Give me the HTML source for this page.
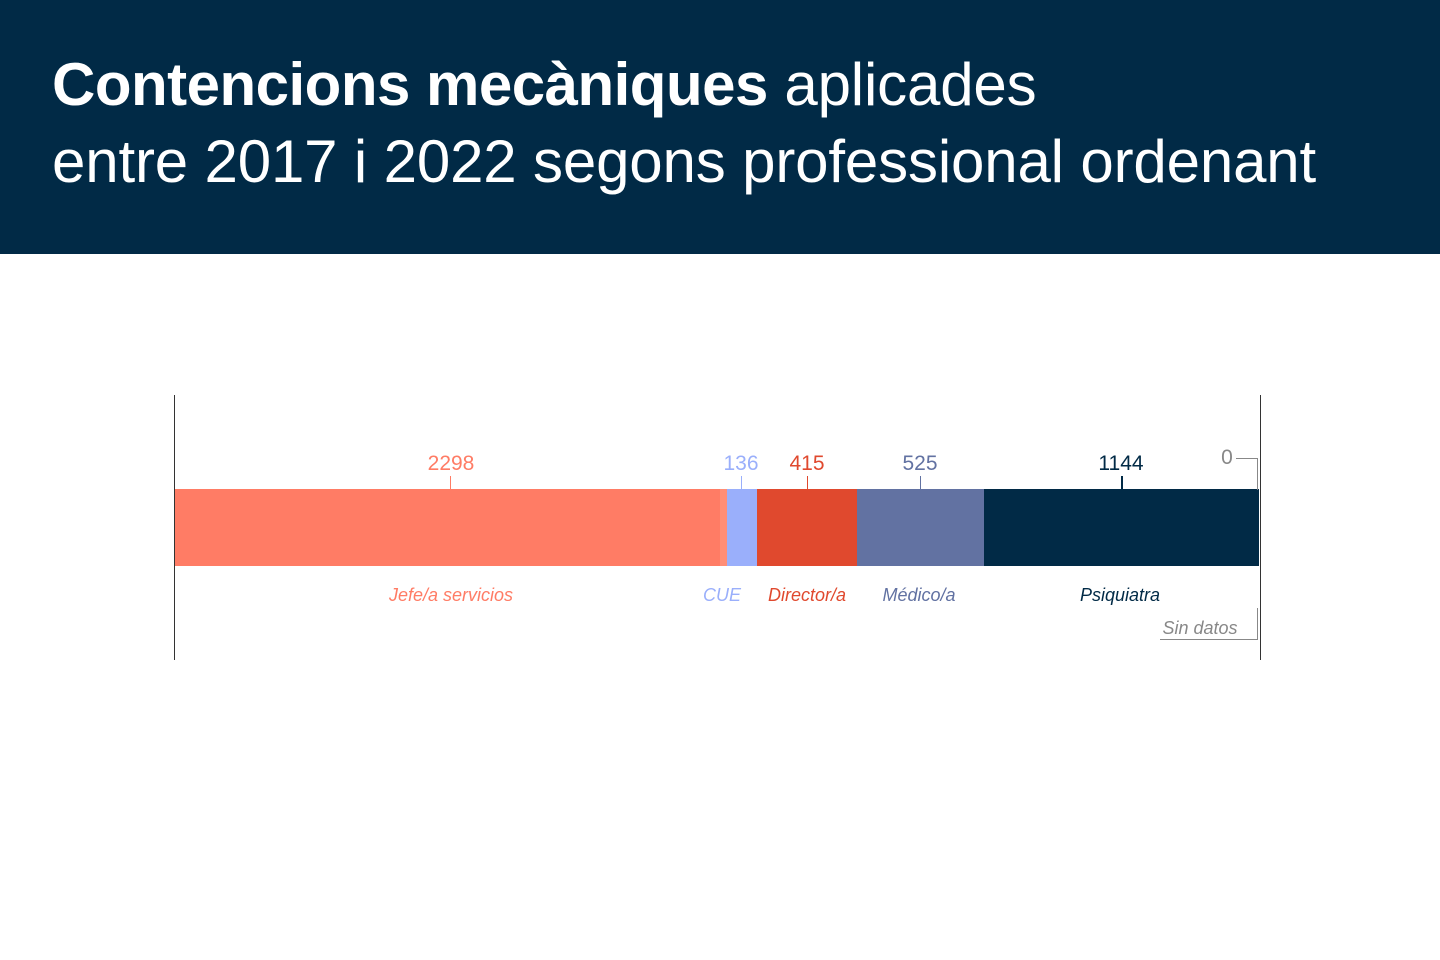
<!DOCTYPE html>
<html><head><meta charset="utf-8"><style>
body{margin:0;width:1440px;height:960px;background:#fff;font-family:"Liberation Sans",sans-serif;overflow:hidden;position:relative}
.hd{position:absolute;left:0;top:0;width:1440px;height:254px;background:#012a46;color:#fff}
.t{position:absolute;left:52px;font-size:60px;white-space:nowrap;letter-spacing:-0.15px}
.a{position:absolute}
.n{position:absolute;font-size:21px;transform:translateX(-50%);top:452px}
.l{position:absolute;font-size:18px;font-style:italic;transform:translateX(-50%);top:585px}
</style></head><body>
<div class="hd">
<div class="t" style="top:50px"><b style="letter-spacing:-0.5px">Contencions mecàniques</b> aplicades</div>
<div class="t" style="top:127px">entre 2017 i 2022 segons professional ordenant</div>
</div>
<div class="a" style="left:174px;top:395px;width:1px;height:265px;background:#333"></div>
<div class="a" style="left:1260px;top:395px;width:1px;height:265px;background:#333"></div>
<div class="a" style="left:175px;top:489px;width:545px;height:77px;background:#ff7c65"></div>
<div class="a" style="left:720px;top:489px;width:7px;height:77px;background:#ff8e76"></div>
<div class="a" style="left:727px;top:489px;width:30px;height:77px;background:#9aaffb"></div>
<div class="a" style="left:757px;top:489px;width:100px;height:77px;background:#e0492e"></div>
<div class="a" style="left:857px;top:489px;width:127px;height:77px;background:#6272a2"></div>
<div class="a" style="left:984px;top:489px;width:275px;height:77px;background:#012a46"></div>
<div class="a" style="left:450px;top:476px;width:1px;height:13px;background:#ff7c65"></div>
<div class="a" style="left:741px;top:476px;width:1px;height:13px;background:#9aaffb"></div>
<div class="a" style="left:807px;top:476px;width:1px;height:13px;background:#e0492e"></div>
<div class="a" style="left:920px;top:476px;width:1px;height:13px;background:#6272a2"></div>
<div class="a" style="left:1121px;top:476px;width:2px;height:13px;background:#012a46"></div>
<div class="a" style="left:1236px;top:458px;width:22px;height:1px;background:#888"></div>
<div class="a" style="left:1257px;top:458px;width:1px;height:32px;background:#888"></div>
<div class="a" style="left:1160px;top:639px;width:98px;height:1px;background:#888"></div>
<div class="a" style="left:1257px;top:608px;width:1px;height:32px;background:#888"></div>
<div class="n" style="left:451px;color:#ff7c65">2298</div>
<div class="n" style="left:741px;color:#9aaffb">136</div>
<div class="n" style="left:807px;color:#e0492e">415</div>
<div class="n" style="left:920px;color:#6272a2">525</div>
<div class="n" style="left:1121px;color:#012a46">1144</div>
<div class="n" style="left:1227px;top:446px;color:#888">0</div>
<div class="l" style="left:451px;color:#ff7c65">Jefe/a servicios</div>
<div class="l" style="left:722px;color:#9aaffb">CUE</div>
<div class="l" style="left:807px;color:#e0492e">Director/a</div>
<div class="l" style="left:919px;color:#6272a2">Médico/a</div>
<div class="l" style="left:1120px;color:#012a46">Psiquiatra</div>
<div class="l" style="left:1200px;top:618px;color:#888">Sin datos</div>
</body></html>
